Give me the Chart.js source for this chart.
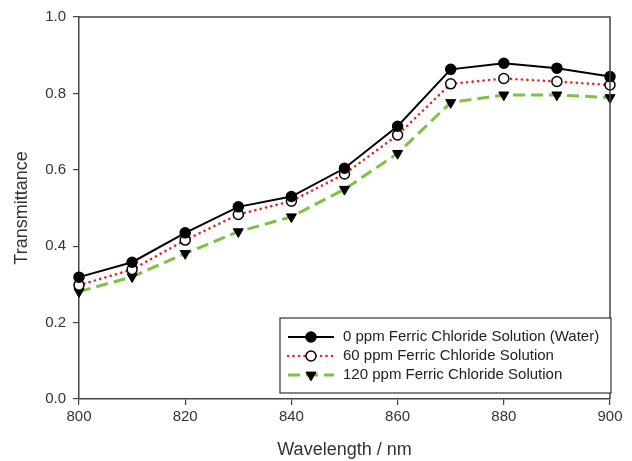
<!DOCTYPE html>
<html>
<head>
<meta charset="utf-8">
<script src="https://cdn.jsdelivr.net/npm/chart.js@4.4.0/dist/chart.umd.min.js"></script>
<style>
html,body{margin:0;padding:0;background:#fff;}
#wrap{width:632px;height:461px;position:relative;}
</style>
</head>
<body>
<div id="wrap"><canvas id="c" width="632" height="461"></canvas></div>
<script>
const wavelengths = [800, 810, 820, 830, 840, 850, 860, 870, 880, 890, 900];
const ppm0 = [0.319, 0.358, 0.435, 0.503, 0.530, 0.604, 0.714, 0.863, 0.879, 0.866, 0.844];
const ppm60 = [0.298, 0.339, 0.416, 0.483, 0.518, 0.589, 0.691, 0.825, 0.839, 0.831, 0.822];
const ppm120 = [0.281, 0.320, 0.381, 0.438, 0.477, 0.549, 0.643, 0.776, 0.796, 0.796, 0.789];
const seriesLabels = ['0 ppm Ferric Chloride Solution (Water)', '60 ppm Ferric Chloride Solution', '120 ppm Ferric Chloride Solution'];
const xTitle = 'Wavelength / nm';
const yTitle = 'Transmittance';

const FONT = "'Liberation Sans', Arial, sans-serif";
const toXY = arr => arr.map((v, i) => ({x: wavelengths[i], y: v}));

const styles = [
  {color: '#000000', width: 2, dash: [], cap: 'butt', pointStyle: 'circle', bg: '#000000', radius: 5, rot: 0},
  {color: '#e8242a', width: 2.6, dash: [0.1, 5.4], cap: 'round', pointStyle: 'circle', bg: '#ffffff', radius: 5, rot: 0},
  {color: '#7dc242', width: 3, dash: [12, 6], cap: 'butt', pointStyle: 'triangle', bg: '#000000', radius: 5.8, rot: 180}
];
const dataArrays = [ppm0, ppm60, ppm120];

const datasets = dataArrays.map((arr, i) => ({
  label: seriesLabels[i],
  data: toXY(arr),
  borderColor: styles[i].color,
  borderWidth: styles[i].width,
  borderDash: styles[i].dash,
  borderCapStyle: styles[i].cap,
  pointStyle: styles[i].pointStyle,
  pointRotation: styles[i].rot,
  pointRadius: styles[i].radius,
  pointBackgroundColor: styles[i].bg,
  pointBorderColor: '#000000',
  pointBorderWidth: i === 2 ? 1 : 1.5,
  tension: 0,
  fill: false,
  clip: false
}));

const frameAndLegend = {
  id: 'frameAndLegend',
  afterDatasetsDraw(chart) {
    const ctx = chart.ctx;
    const a = chart.chartArea;
    ctx.save();
    ctx.strokeStyle = '#444';
    ctx.lineWidth = 1.5;
    ctx.setLineDash([]);
    ctx.beginPath();
    ctx.moveTo(a.left, a.top);
    ctx.lineTo(a.right, a.top);
    ctx.lineTo(a.right, a.bottom);
    ctx.stroke();

    // legend box
    const bx = 280, by = 318, bw = 331, bh = 75;
    ctx.fillStyle = '#ffffff';
    ctx.fillRect(bx, by, bw, bh);
    ctx.strokeStyle = '#333';
    ctx.lineWidth = 1.2;
    ctx.strokeRect(bx, by, bw, bh);
    const rows = [337, 356, 375];
    const mx = 311;
    ctx.font = '15px ' + FONT;
    ctx.textBaseline = 'middle';
    rows.forEach((ry, i) => {
      const s = styles[i];
      ctx.strokeStyle = s.color;
      ctx.lineWidth = s.width;
      ctx.lineCap = s.cap;
      ctx.setLineDash(s.dash);
      ctx.beginPath();
      ctx.moveTo(288, ry);
      ctx.lineTo(334, ry);
      ctx.stroke();
      ctx.setLineDash([]);
      ctx.lineCap = 'butt';
      ctx.fillStyle = s.bg;
      ctx.strokeStyle = '#000';
      ctx.lineWidth = 1.5;
      ctx.beginPath();
      if (s.pointStyle === 'circle') {
        ctx.arc(mx, ry, s.radius, 0, Math.PI * 2);
      } else {
        const r = s.radius;
        ctx.moveTo(mx - r * 0.87, ry - r * 0.5);
        ctx.lineTo(mx + r * 0.87, ry - r * 0.5);
        ctx.lineTo(mx, ry + r);
        ctx.closePath();
        ctx.lineWidth = 1;
      }
      ctx.fill();
      ctx.stroke();
      ctx.fillStyle = '#222';
      ctx.fillText(seriesLabels[i], 343, ry);
    });
    ctx.restore();
  }
};

new Chart(document.getElementById('c'), {
  type: 'line',
  data: {datasets},
  options: {
    responsive: false,
    animation: false,
    devicePixelRatio: 1,
    layout: {padding: {left: 0, right: 22, top: 17, bottom: 0}},
    plugins: {legend: {display: false}, tooltip: {enabled: false}},
    scales: {
      x: {
        type: 'linear',
        min: 800, max: 900,
        afterFit(s) { s.height = 62; },
        ticks: {stepSize: 20, color: '#333', font: {family: FONT, size: 15}, padding: 3, maxRotation: 0},
        grid: {drawOnChartArea: false, drawTicks: true, tickLength: 6, color: '#444', lineWidth: 1.2},
        border: {color: '#444', width: 1.5},
        title: {display: true, text: xTitle, color: '#333', font: {family: FONT, size: 18}, padding: {top: 0, bottom: 0}}
      },
      y: {
        type: 'linear',
        min: 0, max: 1,
        afterFit(s) { s.width = 79; },
        ticks: {stepSize: 0.2, color: '#333', font: {family: FONT, size: 15}, padding: 7,
          callback: v => Number(v).toFixed(1)},
        grid: {drawOnChartArea: false, drawTicks: true, tickLength: 6, color: '#444', lineWidth: 1.2},
        border: {color: '#444', width: 1.5},
        title: {display: true, text: yTitle, color: '#333', font: {family: FONT, size: 18}, padding: {top: 11, bottom: 0}}
      }
    }
  },
  plugins: [frameAndLegend]
});
</script>
</body>
</html>
